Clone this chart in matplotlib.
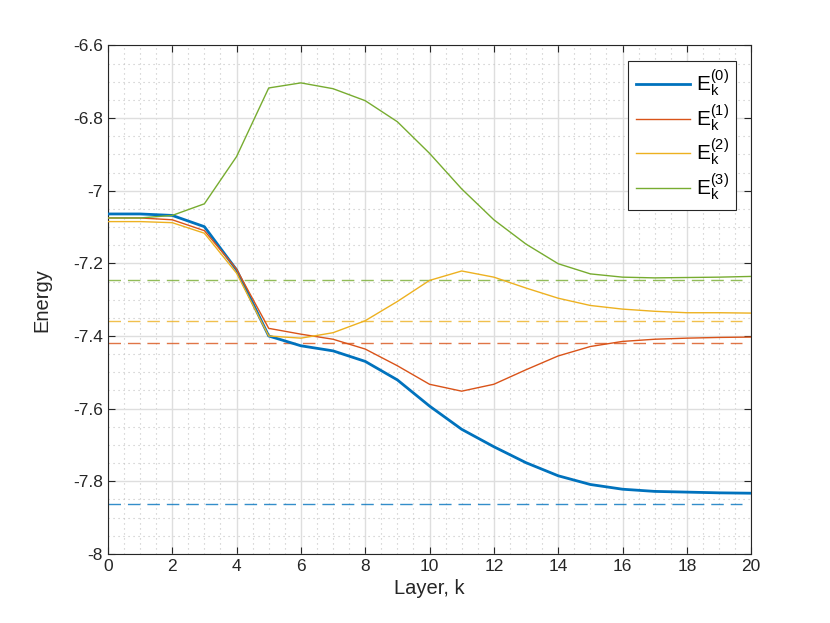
import numpy as np
import matplotlib
matplotlib.use('Agg')
import matplotlib.pyplot as plt
from matplotlib.ticker import MultipleLocator

plt.rcParams['font.family'] = ['Liberation Sans', 'DejaVu Sans']
plt.rcParams['mathtext.fontset'] = 'custom'
plt.rcParams['mathtext.rm'] = 'Liberation Sans'
plt.rcParams['mathtext.it'] = 'Liberation Sans'

# layer index
layers = list(range(21))

# energies per layer
e0 = [-7.064, -7.064, -7.068, -7.099, -7.218, -7.400, -7.427, -7.441, -7.470, -7.521,
      -7.593, -7.657, -7.705, -7.749, -7.785, -7.809, -7.822, -7.828, -7.830, -7.832, -7.833]
e1 = [-7.075, -7.075, -7.080, -7.110, -7.216, -7.379, -7.395, -7.409, -7.436, -7.482,
      -7.533, -7.552, -7.533, -7.493, -7.455, -7.429, -7.415, -7.409, -7.406, -7.404, -7.403]
e2 = [-7.085, -7.085, -7.088, -7.117, -7.227, -7.400, -7.406, -7.391, -7.358, -7.305,
      -7.247, -7.221, -7.238, -7.268, -7.296, -7.316, -7.326, -7.332, -7.336, -7.336, -7.337]
e3 = [-7.075, -7.075, -7.068, -7.036, -6.906, -6.717, -6.703, -6.719, -6.752, -6.810,
      -6.897, -6.995, -7.080, -7.147, -7.201, -7.229, -7.238, -7.240, -7.239, -7.238, -7.236]

# exact reference energies (dashed)
exact = [-7.863, -7.419, -7.360, -7.247]

series = [e0, e1, e2, e3]
labels = [r'$\mathrm{E}_\mathrm{k}^{(0)}$', r'$\mathrm{E}_\mathrm{k}^{(1)}$',
          r'$\mathrm{E}_\mathrm{k}^{(2)}$', r'$\mathrm{E}_\mathrm{k}^{(3)}$']
colors = ['#0072BD', '#D95319', '#EDB120', '#77AC30']
widths = [2.0, 1.0, 1.0, 1.0]

fig = plt.figure(figsize=(8.3, 6.23), dpi=100)
ax = fig.add_axes([0.130, 0.111, 0.775, 0.816])

for y, lab, c, lw in zip(series, labels, colors, widths):
    ax.plot(layers, y, color=c, lw=lw, label=lab, zorder=3)
for ex, c in zip(exact, colors):
    ax.axhline(ex, xmin=0, xmax=0.985, color=c, lw=1.0, ls=(0, (9, 5)), alpha=0.8, zorder=2)

ax.set_xlim(0, 20)
ax.set_ylim(-8, -6.6)
ax.xaxis.set_major_locator(MultipleLocator(2))
ax.yaxis.set_major_locator(MultipleLocator(0.2))
ax.xaxis.set_minor_locator(MultipleLocator(0.5))
ax.yaxis.set_minor_locator(MultipleLocator(0.05))
ax.set_yticklabels([f'{v:g}' for v in ax.get_yticks()])

ax.grid(which='major', color='#dedede', lw=1.0, zorder=0)
ax.grid(which='minor', color='#c4c4c4', lw=0.8, ls=(0, (1, 3.5)), zorder=0)
ax.tick_params(which='major', direction='in', length=5, top=True, right=True,
               labelsize=12.5, colors='#262626', width=0.8)
ax.tick_params(which='minor', length=0, top=True, right=True)
for s in ax.spines.values():
    s.set_color('#262626')
    s.set_linewidth(0.8)

ax.set_xlabel('Layer, k', fontsize=14.5, color='#262626')
ax.set_ylabel('Energy', fontsize=14.5, color='#262626', labelpad=16)

leg = ax.legend(loc='upper right', bbox_to_anchor=(0.977, 0.970), fontsize=15,
                fancybox=False, edgecolor='#262626', framealpha=1, borderaxespad=0,
                handlelength=2.6, handletextpad=0.3, labelspacing=0.15,
                borderpad=0.35)
leg.get_frame().set_linewidth(0.8)

fig.savefig('out.png', dpi=100)
